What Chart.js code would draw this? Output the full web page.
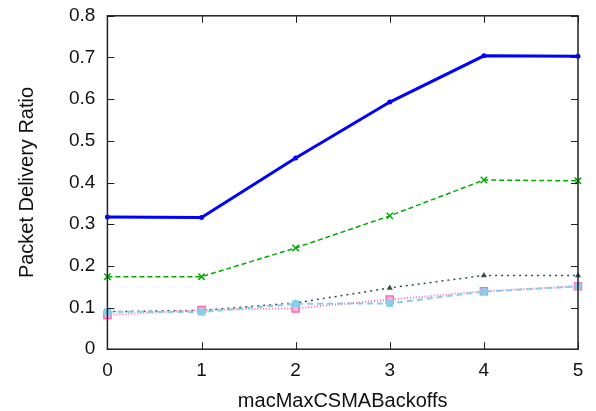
<!DOCTYPE html>
<html>
<head>
<meta charset="utf-8">
<script src="https://cdn.jsdelivr.net/npm/chart.js@4/dist/chart.umd.min.js"></script>
<style>
  html, body { margin: 0; padding: 0; background: #fff; }
  #wrap { width: 596px; height: 411px; position: relative; }
</style>
</head>
<body>
<div id="wrap"><canvas id="grafik"></canvas></div>
<script>
// data
const labelBackoff = ['0', '1', '2', '3', '4', '5'];
const seriBiru     = [0.317, 0.316, 0.459, 0.593, 0.704, 0.703];
const seriHijau    = [0.174, 0.174, 0.243, 0.320, 0.406, 0.404];
const seriGelap    = [0.090, 0.093, 0.111, 0.147, 0.177, 0.177];
const seriPink     = [0.082, 0.094, 0.098, 0.119, 0.139, 0.151];
const seriBiruMuda = [0.090, 0.089, 0.109, 0.110, 0.138, 0.151];
const tickY        = [0, 0.1, 0.2, 0.3, 0.4, 0.5, 0.6, 0.7, 0.8];

const hurufDasar = "'Liberation Sans', Arial, sans-serif";

// tick ke dalam + kotak bingkai
const pluginBingkai = {
  id: 'bingkai',
  afterDraw(chart) {
    const { ctx, chartArea: a, scales } = chart;
    ctx.save();
    ctx.strokeStyle = '#222';
    ctx.lineWidth = 1.5;
    ctx.strokeRect(a.left, a.top, a.right - a.left, a.bottom - a.top);
    ctx.lineWidth = 1;
    const panjang = 7;
    tickY.forEach(v => {
      const y = Math.round(scales.y.getPixelForValue(v)) + 0.5;
      ctx.beginPath();
      ctx.moveTo(a.left, y); ctx.lineTo(a.left + panjang, y);
      ctx.moveTo(a.right, y); ctx.lineTo(a.right - panjang, y);
      ctx.stroke();
    });
    labelBackoff.forEach((l, i) => {
      const x = Math.round(scales.x.getPixelForValue(i)) + 0.5;
      ctx.beginPath();
      ctx.moveTo(x, a.bottom); ctx.lineTo(x, a.bottom - panjang);
      ctx.moveTo(x, a.top); ctx.lineTo(x, a.top + panjang);
      ctx.stroke();
    });
    ctx.restore();
  }
};

new Chart(document.getElementById('grafik'), {
  type: 'line',
  data: {
    labels: labelBackoff,
    datasets: [
      {
        data: seriBiruMuda,
        borderColor: '#87ceeb',
        backgroundColor: '#87ceeb',
        borderWidth: 2,
        borderDash: [6, 4],
        pointStyle: 'rect',
        pointRadius: 5,
        pointBorderWidth: 0
      },
      {
        data: seriPink,
        borderColor: '#ff69b4',
        backgroundColor: '#ffb6d9',
        pointBorderColor: '#ff69b4',
        borderWidth: 2,
        borderDash: [1, 2],
        pointStyle: 'rect',
        pointRadius: 5,
        pointBorderWidth: 1.5
      },
      {
        data: seriGelap,
        borderColor: '#2f4f4f',
        backgroundColor: '#2f4f4f',
        borderWidth: 1.5,
        borderDash: [2, 4],
        pointStyle: 'triangle',
        pointRadius: 3.5,
        pointBorderWidth: 0
      },
      {
        data: seriHijau,
        borderColor: '#00aa00',
        backgroundColor: '#00aa00',
        borderWidth: 1.5,
        borderDash: [5, 3],
        pointStyle: 'crossRot',
        pointRadius: 4.5,
        pointBorderWidth: 1.5
      },
      {
        data: seriBiru,
        borderColor: '#0000ff',
        backgroundColor: '#0000ff',
        borderWidth: 3,
        pointStyle: 'circle',
        pointRadius: 2.5,
        pointBorderWidth: 0
      }
    ]
  },
  options: {
    responsive: true,
    maintainAspectRatio: false,
    animation: false,
    layout: { padding: { top: 0, right: 18, left: 11, bottom: -2 } },
    plugins: { legend: { display: false }, tooltip: { enabled: false } },
    elements: { line: { tension: 0, fill: false } },
    scales: {
      x: {
        offset: false,
        grid: { display: false, drawTicks: false },
        border: { display: false },
        ticks: { color: '#111', font: { family: hurufDasar, size: 19 }, padding: 10, maxRotation: 0 },
        title: { display: true, text: 'macMaxCSMABackoffs', color: '#111', font: { family: hurufDasar, size: 20 }, padding: { top: -3, bottom: 0 } }
      },
      y: {
        min: 0,
        max: 0.8,
        afterBuildTicks: skala => { skala.ticks = tickY.map(v => ({ value: v })); },
        grid: { display: false, drawTicks: false },
        border: { display: false },
        ticks: { color: '#111', font: { family: hurufDasar, size: 19, lineHeight: 0.4 }, padding: 12 },
        title: { display: true, text: 'Packet Delivery Ratio', color: '#111', font: { family: hurufDasar, size: 20 }, padding: { bottom: 18 } }
      }
    }
  },
  plugins: [pluginBingkai]
});
</script>
</body>
</html>
